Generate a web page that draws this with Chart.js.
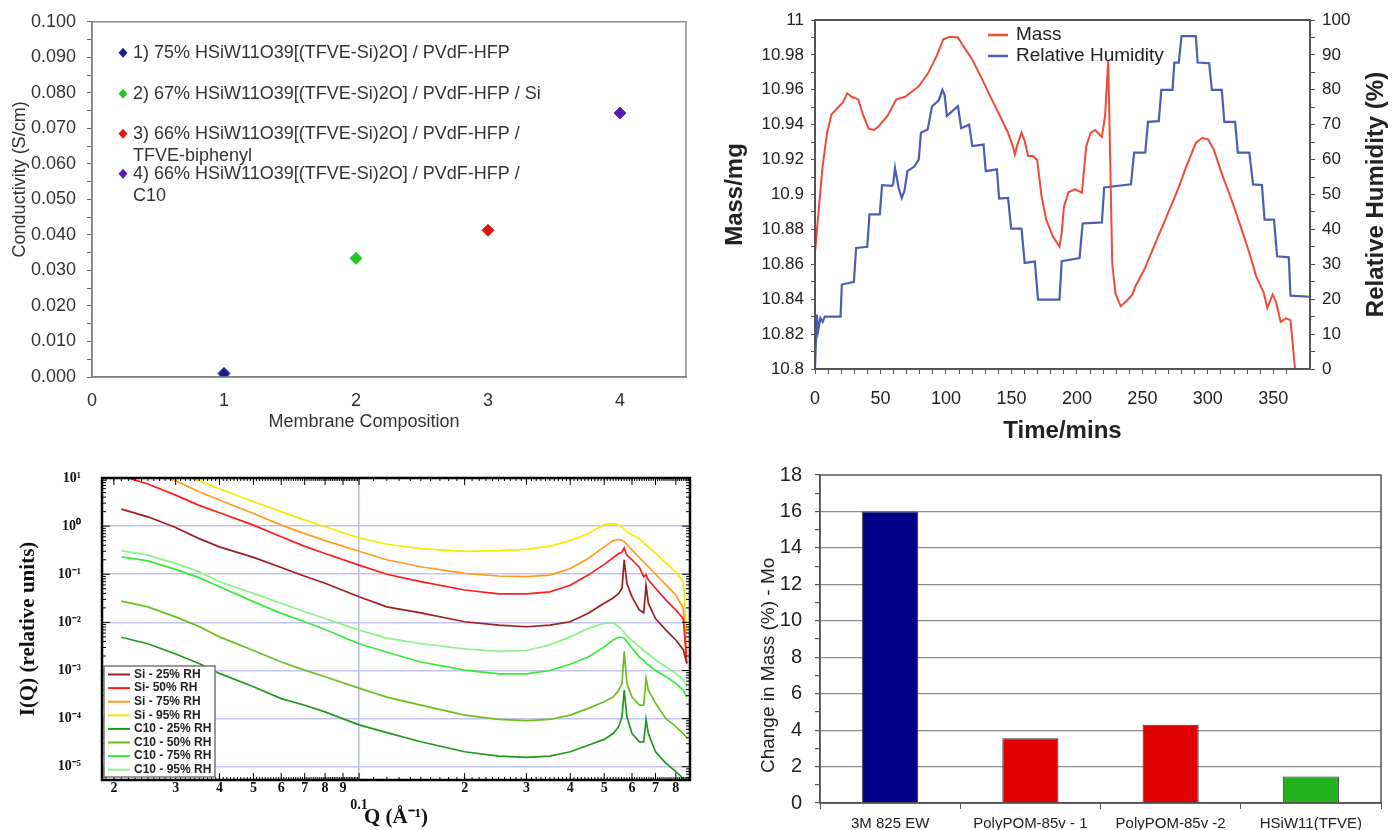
<!DOCTYPE html>
<html>
<head>
<meta charset="utf-8">
<script src="https://cdn.jsdelivr.net/npm/chart.js@4.4.1/dist/chart.umd.min.js"></script>
<style>
  body { margin: 0; background: #fff; width: 1400px; height: 830px; position: relative; overflow: hidden; }
  canvas { position: absolute; }
</style>
</head>
<body>
<canvas id="cond" width="700" height="445" style="left:0px;top:0px"></canvas>
<canvas id="mass" width="700" height="450" style="left:700px;top:0px"></canvas>
<canvas id="saxs" width="700" height="385" style="left:0px;top:445px"></canvas>
<canvas id="uptake" width="700" height="380" style="left:700px;top:450px"></canvas>
<script>
// ---- top left: conductivity ----
const composition = [1, 2, 3, 4];
const conductivity = [0.001, 0.0334, 0.0413, 0.0743];
const membraneLabels = [
  ['1) 75% HSiW11O39[(TFVE-Si)2O] / PVdF-HFP'],
  ['2) 67% HSiW11O39[(TFVE-Si)2O] / PVdF-HFP / Si'],
  ['3) 66% HSiW11O39[(TFVE-Si)2O] / PVdF-HFP /', 'TFVE-biphenyl'],
  ['4) 66% HSiW11O39[(TFVE-Si)2O] / PVdF-HFP /', 'C10']
];
const markerColors = ['#1c1c8c', '#25c425', '#d81a1a', '#5a1cb0'];
const compTicks = [0, 1, 2, 3, 4];

// ---- top right: mass / humidity vs time ----
const massTime = [0, 2.4, 5.8, 9.2, 12.6, 17.7, 21.2, 24.6, 28, 33.1, 36.5, 41, 45, 48.5, 55.3, 62.1, 68.9, 72.4, 79.2, 86,
  92.8, 98, 103, 109.2, 113.3, 120.1, 127, 133.8, 140.6, 147.4, 150.9, 152.6, 154.3, 157.7, 160, 162.8, 166.2, 169.6, 173, 176.5,
  181.6, 186.7, 188.4, 190.1, 193.5, 198.6, 203.8, 207.2, 210.6, 214, 219.1, 221.5, 223.9, 225.3, 227, 229.5, 233.4, 237.9, 242.3, 244.7,
  251.5, 260, 268.6, 277.1, 284, 290.8, 295.9, 300.3, 304.4, 311.3, 318.1, 324.9, 331.7, 336.9, 342.7, 345.4, 349.5, 352.2, 355.6, 359.7,
  363.1, 365.2, 366.6];
const massValue = [10.8665, 10.8876, 10.916, 10.9354, 10.9459, 10.950, 10.9526, 10.958, 10.956, 10.9545, 10.946, 10.9377, 10.937, 10.939, 10.945, 10.9545, 10.956, 10.958, 10.962, 10.969,
  10.9793, 10.989, 10.9904, 10.990, 10.985, 10.9774, 10.967, 10.9564, 10.946, 10.9354, 10.928, 10.923, 10.928, 10.9354, 10.931, 10.922, 10.922, 10.920, 10.899, 10.8857,
  10.876, 10.870, 10.878, 10.893, 10.9013, 10.903, 10.901, 10.928, 10.9354, 10.937, 10.933, 10.945, 10.9765, 10.925, 10.86, 10.843, 10.836, 10.839, 10.8426, 10.8474,
  10.857, 10.8723, 10.8876, 10.903, 10.917, 10.9296, 10.9325, 10.9315, 10.926, 10.9105, 10.897, 10.882, 10.8665, 10.853, 10.8436, 10.835, 10.8426, 10.838, 10.827, 10.829,
  10.828, 10.811, 10.8];
const rhTime = [0, 1.4, 2.4, 4.1, 5.8, 7.5, 19.5, 20.5, 29.7, 31.4, 39.9, 41.6, 49.5, 51.2, 58.7, 59.7, 61.1, 63.8, 66.2, 68.3,
  70.6, 75.8, 79.2, 80.9, 86, 89.4, 94.5, 97.3, 99, 100.7, 104.8, 109.2, 111.6, 117.7, 120.1, 128.7, 130.4, 138.9, 140.6, 147.4,
  149.8, 157.7, 160.1, 167.9, 170.3, 186.7, 188.4, 202, 204.4, 219.1, 220.8, 241.3, 243.7, 252.2, 254.3, 262.5, 264.5, 273, 274.4, 277.8,
  279.9, 290.8, 292.2, 301, 303.1, 310.6, 312.6, 320.8, 322.9, 331.7, 334.5, 341.3, 343.3, 350.5, 352.9, 361.8, 363.1, 378];
const rhValue = [0, 15.6, 11, 14.6, 13.5, 15, 15, 24.2, 25, 34.7, 35, 44.3, 44.3, 52.7, 52.5, 53, 57.6, 52, 49, 51,
  56.7, 58, 60, 67.7, 68.6, 75.3, 77, 80, 78.5, 72.5, 73.9, 75.3, 69, 70, 63.9, 64.3, 56.7, 57.2, 48.8, 49,
  40.2, 40.2, 30.4, 30.8, 19.9, 19.9, 30.9, 31.8, 41.7, 42, 52, 52.9, 62, 62, 70.8, 71, 80, 80, 87.8, 87.8,
  95.4, 95.4, 87.8, 87.6, 80, 80, 70.8, 70.8, 62, 62, 52.9, 52.7, 42.8, 42.8, 32.3, 32, 21, 20.7];

// ---- bottom left: scattering curves ----
const qValues = [0.021, 0.025, 0.03, 0.035, 0.04, 0.05, 0.06, 0.07, 0.08, 0.1, 0.12, 0.15, 0.2, 0.25, 0.3, 0.35, 0.4, 0.45, 0.5, 0.53,
  0.55, 0.562, 0.57, 0.58, 0.6, 0.63, 0.648, 0.658, 0.668, 0.7, 0.75, 0.8, 0.84, 0.86];
const si25 = [2.25, 1.56, 0.94, 0.55, 0.37, 0.224, 0.138, 0.091, 0.065, 0.034, 0.021, 0.0158, 0.0103, 0.0088, 0.0081, 0.0088, 0.0103, 0.0154, 0.025, 0.032,
  0.04, 0.051, 0.2, 0.065, 0.034, 0.018, 0.0158, 0.059, 0.025, 0.012, 0.0069, 0.0043, 0.0027, 0.0014];
const si50 = [11, 7.5, 4.4, 2.7, 1.9, 1.05, 0.6, 0.38, 0.27, 0.155, 0.1, 0.07, 0.047, 0.039, 0.039, 0.043, 0.059, 0.096, 0.16, 0.22,
  0.27, 0.29, 0.355, 0.25, 0.2, 0.138, 0.088, 0.098, 0.076, 0.051, 0.029, 0.018, 0.012, 0.0014];
const si75 = [22, 14, 8.7, 5.2, 3.5, 1.83, 1.05, 0.7, 0.5, 0.3, 0.2, 0.143, 0.104, 0.092, 0.089, 0.096, 0.132, 0.213, 0.37, 0.5,
  0.53, 0.51, 0.47, 0.42, 0.32, 0.22, 0.18, 0.16, 0.143, 0.1, 0.06, 0.037, 0.0195, 0.0022];
const si95 = [40, 26, 14, 8.7, 6.0, 3.2, 2.0, 1.33, 0.97, 0.57, 0.42, 0.34, 0.3, 0.31, 0.33, 0.385, 0.5, 0.7, 1.08, 1.13,
  1.05, 0.95, 0.87, 0.76, 0.65, 0.55, 0.45, 0.41, 0.37, 0.27, 0.17, 0.112, 0.07, 0.006];
const c10_25 = [0.0049, 0.0036, 0.0022, 0.0014, 0.00087, 0.00046, 0.00026, 0.00019, 0.000138, 0.000074, 0.000051, 0.000033, 0.0000205, 0.0000166, 0.0000156, 0.0000166, 0.0000205, 0.000028, 0.000037, 0.000049,
  0.000068, 0.00011, 0.00039, 0.00011, 0.000049, 0.000033, 0.000033, 0.000096, 0.000049, 0.0000205, 0.0000118, 0.0000079, 0.0000057, 0.0000045];
const c10_50 = [0.0276, 0.021, 0.013, 0.0082, 0.005, 0.0026, 0.0015, 0.00102, 0.00074, 0.00043, 0.00028, 0.00019, 0.000118, 0.000096, 0.000091, 0.000096, 0.000118, 0.000163, 0.000224, 0.00028,
  0.00039, 0.00054, 0.0025, 0.00054, 0.00028, 0.00019, 0.00019, 0.00069, 0.00039, 0.00021, 0.0001, 0.000068, 0.000049, 0.00004];
const c10_75 = [0.23, 0.19, 0.126, 0.085, 0.055, 0.027, 0.0154, 0.0103, 0.0071, 0.0036, 0.0024, 0.0015, 0.00102, 0.00085, 0.00085, 0.001, 0.00135, 0.0019, 0.0031, 0.0043,
  0.0049, 0.0049, 0.0047, 0.004, 0.0029, 0.0019, 0.0016, 0.0014, 0.0013, 0.001, 0.00074, 0.00054, 0.00039, 0.00028];
const c10_95 = [0.31, 0.25, 0.168, 0.112, 0.07, 0.04, 0.025, 0.0166, 0.012, 0.0069, 0.0047, 0.0036, 0.0028, 0.0025, 0.0026, 0.0034, 0.005, 0.0075, 0.0095, 0.0098,
  0.0081, 0.007, 0.0062, 0.0053, 0.0042, 0.0031, 0.0026, 0.0024, 0.0022, 0.00165, 0.0012, 0.00087, 0.00065, 0.00046];
const saxsNames = ['Si - 25% RH', 'Si- 50% RH', 'Si - 75% RH', 'Si - 95% RH', 'C10 - 25% RH', 'C10 - 50% RH', 'C10 - 75% RH', 'C10 - 95% RH'];
const saxsSeries = [si25, si50, si75, si95, c10_25, c10_50, c10_75, c10_95];
const saxsColors = ['#a01e1e', '#ff1c1c', '#ff9c1e', '#f6ea00', '#1f9a1f', '#6cbf1e', '#36ea36', '#8cf28c'];
const qTickValues = [0.02, 0.03, 0.04, 0.05, 0.06, 0.07, 0.08, 0.09, 0.1, 0.2, 0.3, 0.4, 0.5, 0.6, 0.7, 0.8];
const qTickLabels = ['2', '3', '4', '5', '6', '7', '8', '9', ['', '0.1'], '2', '3', '4', '5', '6', '7', '8'];
const decadeValues = [1e-5, 1e-4, 1e-3, 1e-2, 1e-1, 1, 10];
const decadeLabels = ['10⁻⁵', '10⁻⁴', '10⁻³', '10⁻²', '10⁻¹', '10⁰', '10¹'];

// ---- bottom right: water uptake ----
const sampleNames = ['3M 825 EW', 'PolyPOM-85v - 1', 'PolyPOM-85v -2', 'HSiW11(TFVE)'];
const massChange = [16, 3.55, 4.3, 1.45];
const barColors = ['#000088', '#e00000', '#e00000', '#22b21e'];

Chart.defaults.font.family = '"Liberation Sans", Arial, sans-serif';
Chart.defaults.color = '#222';
const nb = n => '\u00a0'.repeat(n);

// box round the plot area
const framePlugin = {
  id: 'frame',
  afterDraw(chart, args, opts) {
    const { ctx, chartArea: a } = chart;
    ctx.save();
    ctx.strokeStyle = opts.color || '#444';
    ctx.lineWidth = opts.width || 1;
    ctx.strokeRect(a.left, a.top, a.right - a.left, a.bottom - a.top);
    ctx.restore();
  }
};

const common = { responsive: false, animation: false, devicePixelRatio: 1 };

// ===== chart 1 =====
const condLegend = {
  id: 'condLegend',
  afterDraw(chart) {
    const { ctx, chartArea: a } = chart;
    const rows = [31, 72, 112, 152];
    ctx.save();
    ctx.font = '18px "Liberation Sans"';
    ctx.textBaseline = 'middle';
    membraneLabels.forEach((lines, i) => {
      const x = a.left + 31, y = a.top + rows[i];
      ctx.fillStyle = markerColors[i];
      ctx.beginPath();
      ctx.moveTo(x, y - 5); ctx.lineTo(x + 4.5, y); ctx.lineTo(x, y + 5); ctx.lineTo(x - 4.5, y);
      ctx.closePath(); ctx.fill();
      ctx.fillStyle = '#333';
      lines.forEach((t, j) => ctx.fillText(t, a.left + 41, y + j * 22));
    });
    ctx.restore();
  }
};

new Chart(document.getElementById('cond'), {
  type: 'scatter',
  data: {
    datasets: composition.map((c, i) => ({
      label: membraneLabels[i].join(' '),
      data: [{ x: c, y: conductivity[i] }],
      pointStyle: 'rectRot', pointRadius: 6, pointHoverRadius: 6,
      backgroundColor: markerColors[i], borderColor: markerColors[i]
    }))
  },
  options: {
    ...common,
    layout: { padding: { top: 18, right: 14, left: 0, bottom: 0 } },
    plugins: { legend: { display: false }, tooltip: { enabled: false }, frame: { color: '#8a8a8a', width: 1.5 } },
    scales: {
      x: {
        type: 'linear', min: 0, max: 4.5,
        afterBuildTicks: s => { s.ticks = compTicks.map(v => ({ value: v })); },
        afterFit: s => { s.height = 68; },
        grid: { display: false, drawTicks: false },
        border: { color: '#666', width: 1.5 },
        ticks: { font: { size: 18 }, padding: 13, color: '#333' },
        title: { display: true, text: 'Membrane Composition' + nb(10), font: { size: 18 }, color: '#333', padding: { bottom: 12 } }
      },
      y: {
        min: 0, max: 0.1,
        afterFit: s => { s.width = 92; },
        ticks: { stepSize: 0.005, autoSkip: false, font: { size: 18 }, padding: 11, color: '#333',
          callback: (v, i) => i % 2 === 0 ? v.toFixed(3) : '' },
        grid: { drawOnChartArea: false, tickLength: 5, tickColor: '#666' },
        border: { color: '#666', width: 1.5 },
        title: { display: true, text: nb(8) + 'Conductivity (S/cm)', font: { size: 18 }, color: '#333', padding: { top: 9 } }
      }
    }
  },
  plugins: [framePlugin, condLegend]
});

// ===== chart 2 =====
const massLegend = {
  id: 'massLegend',
  afterDraw(chart) {
    const { ctx, chartArea: a } = chart;
    ctx.save();
    ctx.font = '19px "Liberation Sans"';
    ctx.textBaseline = 'middle';
    chart.data.datasets.forEach((ds, i) => {
      const y = 35 + i * 21;
      ctx.strokeStyle = ds.borderColor; ctx.lineWidth = 2.5;
      ctx.beginPath(); ctx.moveTo(288, y); ctx.lineTo(308, y); ctx.stroke();
      ctx.fillStyle = '#222';
      ctx.fillText(ds.label, 316, y);
    });
    // right axis title, reading bottom to top
    ctx.translate(chart.width - 24, (a.top + a.bottom) / 2);
    ctx.rotate(-Math.PI / 2);
    ctx.font = 'bold 24px "Liberation Sans"';
    ctx.textAlign = 'center';
    ctx.fillText('Relative Humidity (%)', 0, 0);
    ctx.restore();
  }
};

new Chart(document.getElementById('mass'), {
  type: 'line',
  data: {
    datasets: [
      { label: 'Mass', data: massTime.map((t, i) => ({ x: t, y: massValue[i] })), yAxisID: 'y',
        borderColor: '#f04a38', borderWidth: 2, pointRadius: 0, tension: 0 },
      { label: 'Relative Humidity', data: rhTime.map((t, i) => ({ x: t, y: rhValue[i] })), yAxisID: 'y1',
        borderColor: '#4b5eb2', borderWidth: 2.2, pointRadius: 0, tension: 0 }
    ]
  },
  options: {
    ...common,
    layout: { padding: { top: 20, right: 0, left: 0, bottom: 0 } },
    plugins: { legend: { display: false }, tooltip: { enabled: false }, frame: { color: '#555', width: 2 } },
    scales: {
      x: {
        type: 'linear', min: 0, max: 378,
        afterBuildTicks: s => { s.ticks = s.ticks.filter(t => t.value % 10 === 0); },
        afterFit: s => { s.height = 81; },
        ticks: { stepSize: 10, autoSkip: false, maxRotation: 0, font: { size: 18 }, padding: 14,
          callback: v => v % 50 === 0 ? v : '' },
        grid: { drawOnChartArea: false, tickLength: 5, tickColor: '#555' },
        border: { color: '#444', width: 2 },
        title: { display: true, text: 'Time/mins', font: { size: 24, weight: 'bold' }, padding: { bottom: 4 } }
      },
      y: {
        position: 'left', min: 10.8, max: 11,
        afterFit: s => { s.width = 115; },
        ticks: { stepSize: 0.01, autoSkip: false, font: { size: 17 }, padding: 7,
          callback: (v, i) => i % 2 === 0 ? String(parseFloat(v.toFixed(2))) : '' },
        grid: { drawOnChartArea: false, tickLength: 4, tickColor: '#555' },
        border: { color: '#444', width: 2 },
        title: { display: true, text: 'Mass/mg', font: { size: 24, weight: 'bold' }, padding: { top: 21 } }
      },
      y1: {
        position: 'right', min: 0, max: 100,
        afterFit: s => { s.width = 90; },
        ticks: { stepSize: 5, autoSkip: false, font: { size: 17 }, padding: 7,
          callback: (v, i) => i % 2 === 0 ? v : '' },
        grid: { drawOnChartArea: false, tickLength: 5, tickColor: '#555' },
        border: { color: '#444', width: 2 }
      }
    }
  },
  plugins: [framePlugin, massLegend]
});

// ===== chart 3 =====
const saxsDecor = {
  id: 'saxsDecor',
  afterDraw(chart) {
    const { ctx, chartArea: a, scales: { x, y } } = chart;
    ctx.save();
    ctx.strokeStyle = '#000'; ctx.lineWidth = 1;
    const xt = (v, len) => {
      const px = x.getPixelForValue(v);
      if (px < a.left || px > a.right) return;
      ctx.moveTo(px, a.top); ctx.lineTo(px, a.top + len);
      ctx.moveTo(px, a.bottom); ctx.lineTo(px, a.bottom - len);
    };
    const yt = (v, len) => {
      const py = y.getPixelForValue(v);
      if (py < a.top || py > a.bottom) return;
      ctx.moveTo(a.left, py); ctx.lineTo(a.left + len, py);
      ctx.moveTo(a.right, py); ctx.lineTo(a.right - len, py);
    };
    ctx.beginPath();
    for (let k = 19; k < 100; k++) xt(k / 1000, 3);
    for (let k = 11; k < 88; k++) xt(k / 100, 3);
    qTickValues.forEach(v => xt(v, 7));
    for (let e = -6; e <= 0; e++) for (let k = 2; k <= 9; k++) yt(k * Math.pow(10, e), 4);
    decadeValues.forEach(v => yt(v, 8));
    ctx.stroke();

    // legend box
    const bx = a.left + 2, by = a.bottom - 114, bw = 111, bh = 111;
    ctx.fillStyle = '#fff';
    ctx.fillRect(bx, by, bw, bh);
    ctx.strokeStyle = '#777'; ctx.lineWidth = 1.5;
    ctx.strokeRect(bx, by, bw, bh);
    ctx.font = 'bold 12px "Liberation Sans"';
    ctx.textBaseline = 'middle';
    saxsNames.forEach((n, i) => {
      const ly = by + 8.5 + i * 13.6;
      ctx.strokeStyle = saxsColors[i]; ctx.lineWidth = 2;
      ctx.beginPath(); ctx.moveTo(bx + 4, ly); ctx.lineTo(bx + 26, ly); ctx.stroke();
      ctx.fillStyle = '#222';
      ctx.fillText(n, bx + 30, ly);
    });
    ctx.restore();
  }
};

const serif = '"Liberation Serif", "Times New Roman", serif';
new Chart(document.getElementById('saxs'), {
  type: 'line',
  data: {
    datasets: saxsSeries.map((s, i) => ({
      label: saxsNames[i],
      data: qValues.map((q, j) => ({ x: q, y: s[j] })),
      borderColor: saxsColors[i], borderWidth: 1.7, pointRadius: 0, tension: 0
    }))
  },
  options: {
    ...common,
    layout: { padding: { top: 33, right: 10, left: 0, bottom: 0 } },
    plugins: { legend: { display: false }, tooltip: { enabled: false }, frame: { color: '#000', width: 2.5 } },
    scales: {
      x: {
        type: 'logarithmic', min: 0.0185, max: 0.878,
        afterBuildTicks: s => { s.ticks = qTickValues.map(v => ({ value: v })); },
        afterFit: s => { s.height = 50; },
        ticks: { autoSkip: false, maxRotation: 0, padding: 0, color: '#111',
          font: { family: serif, size: 14, weight: 'bold' }, callback: (v, i) => qTickLabels[i] },
        grid: { drawTicks: false, lineWidth: 1.5,
          color: c => (c.tick && Math.abs(c.tick.value - 0.1) < 1e-9) ? '#b8b8ee' : 'rgba(0,0,0,0)' },
        border: { display: false },
        title: { display: true, text: 'Q (Å⁻¹)', color: '#111', font: { family: serif, size: 21, weight: 'bold' }, padding: { bottom: 0 } }
      },
      y: {
        type: 'logarithmic', min: 5.3e-6, max: 10,
        afterBuildTicks: s => { s.ticks = decadeValues.map(v => ({ value: v })); },
        afterFit: s => { s.width = 102; },
        ticks: { autoSkip: false, padding: 21, color: '#111',
          font: { family: serif, size: 14, weight: 'bold' }, callback: (v, i) => decadeLabels[i] },
        grid: { drawTicks: false, lineWidth: 1.5, color: '#c4c4f2' },
        border: { display: false },
        title: { display: true, text: 'I(Q) (relative units)', color: '#111', font: { family: serif, size: 21, weight: 'bold' }, padding: { top: 16 } }
      }
    }
  },
  plugins: [framePlugin, saxsDecor]
});

// ===== chart 4 =====
new Chart(document.getElementById('uptake'), {
  type: 'bar',
  data: {
    labels: sampleNames,
    datasets: [{ data: massChange, backgroundColor: barColors, borderColor: '#333', borderWidth: 1,
      categoryPercentage: 0.4, barPercentage: 1 }]
  },
  options: {
    ...common,
    layout: { padding: { top: 15, right: 19, left: 0, bottom: 0 } },
    plugins: { legend: { display: false }, tooltip: { enabled: false }, frame: { color: '#555', width: 1.5 } },
    scales: {
      x: {
        afterFit: s => { s.height = 27; },
        ticks: { font: { size: 15 }, padding: 6, maxRotation: 0, autoSkip: false },
        grid: { drawOnChartArea: false, offset: true, tickLength: 6, tickColor: '#555' },
        border: { color: '#444', width: 1.5 }
      },
      y: {
        min: 0, max: 18,
        afterFit: s => { s.width = 120; },
        ticks: { stepSize: 1, autoSkip: false, font: { size: 20 }, padding: 13,
          callback: v => v % 2 === 0 ? v : '' },
        grid: { tickLength: 5, tickColor: '#555', lineWidth: 1.2,
          color: c => (c.tick && c.tick.value % 2 === 0 && c.tick.value > 0 && c.tick.value < 18) ? '#8c8c8c' : 'rgba(0,0,0,0)' },
        border: { color: '#444', width: 1.5 },
        title: { display: true, text: 'Change in Mass (%) - Mo' + nb(10), font: { size: 19 }, padding: { top: 57 } }
      }
    }
  },
  plugins: [framePlugin]
});
</script>
</body>
</html>
